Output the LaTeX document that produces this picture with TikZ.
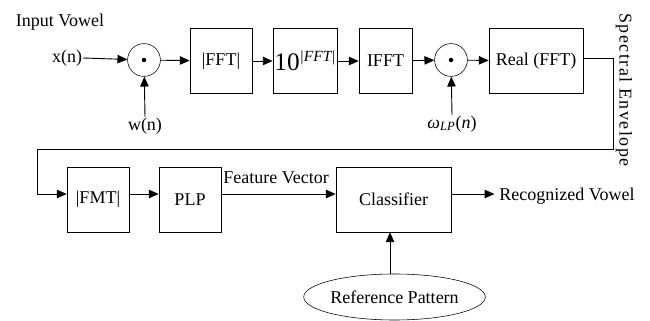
\documentclass[tikz,border=0pt]{standalone}
\usepackage{fontspec}
\setmainfont{Liberation Serif}
\usepackage{tikz}
\usetikzlibrary{arrows.meta,shapes.geometric}

\begin{document}
\begin{tikzpicture}[x=0.025cm,y=-0.025cm,
  font=\fontsize{12.8}{15}\selectfont,
  blk/.style={draw,minimum width=1.55cm,minimum height=1.625cm,inner sep=1pt},
  mult/.style={draw,circle,minimum size=0.82cm,inner sep=0pt},
  lbl/.style={inner sep=0.5pt},
  arr/.style={-{Triangle[length=7pt,width=6pt]}},
  ln/.style={line width=0.65pt}]
\useasboundingbox (0,0) rectangle (650,321);
% top row
\node (vin) at (60,22){Input Vowel};
\node[lbl] (xn) at (67,58){x(n)};
\node[mult] (m1) at (144,60){\tikz\fill circle (1.6pt);};
\node[lbl] (wn) at (145,126){w(n)};
\node[blk] (fft) at (221,61){|FFT|};
\node[blk] (pow) at (305,61){{\fontsize{18}{20}\selectfont 10}\raisebox{1.1ex}{\fontsize{11}{12}\selectfont\itshape |FFT|}};
\node[blk,minimum width=1.325cm] (ifft) at (385.5,61){IFFT};
\node[mult] (m2) at (451,60){\tikz\fill circle (1.6pt);};
\node[lbl] (wlp) at (452,124){\textit{ω}\textsubscript{\textit{LP}}(\textit{n})};
\node[blk,minimum width=2.35cm] (real) at (536,61){Real (FFT)};
\node[rotate=-90] (env) at (624,90){\addfontfeature{LetterSpace=8}Spectral Envelope};
% bottom row
\node[blk] (fmt) at (98,199.5){|FMT|};
\node[blk] (plp) at (190,199.5){PLP};
\node[blk,minimum width=2.875cm] (cls) at (393.5,199.5){Classifier};
\node (feat) at (276,178){Feature Vector};
\node (rec) at (567,196){Recognized Vowel};
\node[draw,ellipse,minimum width=3.6cm,minimum height=1.15cm,inner sep=0pt] (ref) at (394.5,297){Reference Pattern};
\coordinate (c1) at (613,58);
\coordinate (c2) at (613,149);
\coordinate (c3) at (37,149);
\coordinate (c4) at (37,194);
% connectors
\draw[ln,arr] (xn.east) -- (m1);
\draw[ln,arr] (wn.north) -- (m1);
\draw[ln,arr] (m1) -- (fft);
\draw[ln,arr] (fft) -- (pow);
\draw[ln,arr] (pow) -- (ifft);
\draw[ln,arr] (ifft) -- (m2);
\draw[ln,arr] (wlp.north) -- (m2);
\draw[ln,arr] (m2) -- (real);
\draw[ln] (real.east |- c1) -- (c1) -- (c2) -- (c3) -- (c4);
\draw[ln,arr] (c4) -- (fmt.west |- c4);
\draw[ln,arr] (fmt.east |- c4) -- (plp.west |- c4);
\draw[ln,arr] (plp.east |- c4) -- (cls.west |- c4);
\draw[ln,arr] (cls.east |- c4) -- (rec.west |- c4);
\draw[ln,arr] (ref.north -| 390,0) -- (cls.south -| 390,0);
\end{tikzpicture}
\end{document}
